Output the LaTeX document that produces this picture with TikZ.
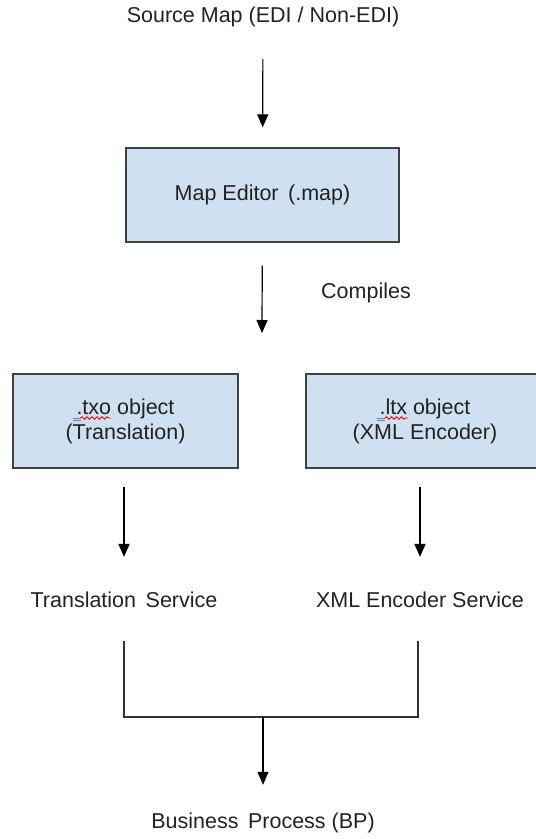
\documentclass[tikz,border=0pt]{standalone}
\usepackage{fontspec}
\setmainfont{Liberation Sans}
\usetikzlibrary{arrows.meta,decorations.pathmorphing}
\definecolor{boxfill}{RGB}{207,224,241}
\definecolor{boxline}{RGB}{64,64,64}
\definecolor{ink}{RGB}{34,34,34}
\definecolor{markblue}{RGB}{90,130,220}

\tikzset{
    label/.style={text=ink, font=\fontsize{21.5}{25}\selectfont, inner sep=0pt},
    obj/.style={label, draw=boxline, fill=boxfill, line width=1.3pt, align=center},
    flow/.style={-{Triangle[width=11pt,length=13pt]}, line width=1.2pt},
    link/.style={line width=1.2pt, draw=black!80},
    squig/.style={red, line width=0.9pt, decorate, decoration={snake, amplitude=1.2pt, segment length=5pt}},
    dotmark/.style={markblue, line width=0.8pt}
}

\begin{document}
\begin{tikzpicture}[x=1pt, y=-1pt]
    \useasboundingbox (0,0) rectangle (536,839);

        \node [label] (src) at (263,17) {Source Map (EDI / Non-EDI)};
        \node [obj, minimum width=273pt, minimum height=94pt] (editor) at (262.5,195) {Map Editor\, (.map)};
        \coordinate (fork) at (262,333);
        \node [label] (compiles) at (366,293) {Compiles};
        \node [obj, minimum width=225pt, minimum height=94pt] (txo) at (125.5,421) {.txo object\\(Translation)};
        \node [obj, minimum width=238pt, minimum height=94pt] (ltx) at (425,421) {.ltx object\\(XML Encoder)};
        \node [label] (trans) at (124,600) {Translation\, Service};
        \node [label] (xmlenc) at (420,600) {XML Encoder Service};
        \coordinate (join) at (263,717);
        \node [label] (bp) at (263,823) {Business\, Process (BP)};

    % spell check marks
    \draw [squig] ([xshift=-45pt,yshift=3pt]txo.center) -- ++(30,0);
    \draw [dotmark] ([xshift=-53pt,yshift=3pt]txo.center) -- ++(8,0) ++(-8,2.5) -- ++(8,0);
    \draw [squig] ([xshift=-40pt,yshift=3pt]ltx.center) -- ++(23,0);
    \draw [dotmark] ([xshift=-48pt,yshift=3pt]ltx.center) -- ++(8,0) ++(-8,2.5) -- ++(8,0);

    \draw [flow, shorten <=32pt, shorten >=20pt] (src) -- (editor);
    \draw [flow, shorten <=23pt] (editor) -- (fork);

    \draw [flow, shorten <=18pt, shorten >=35pt] (txo.south -| trans) -- (trans);
    \draw [flow, shorten <=18pt, shorten >=35pt] (txo.south -| xmlenc) -- (xmlenc);

    \draw [link, shorten <=33pt, shorten >=33pt] (trans) -- (trans |- join) -- ([xshift=-2pt]xmlenc |- join) -- ([xshift=-2pt]xmlenc.south);
    \draw [flow, shorten >=28pt] (join) -- (bp);
\end{tikzpicture}
\end{document}
